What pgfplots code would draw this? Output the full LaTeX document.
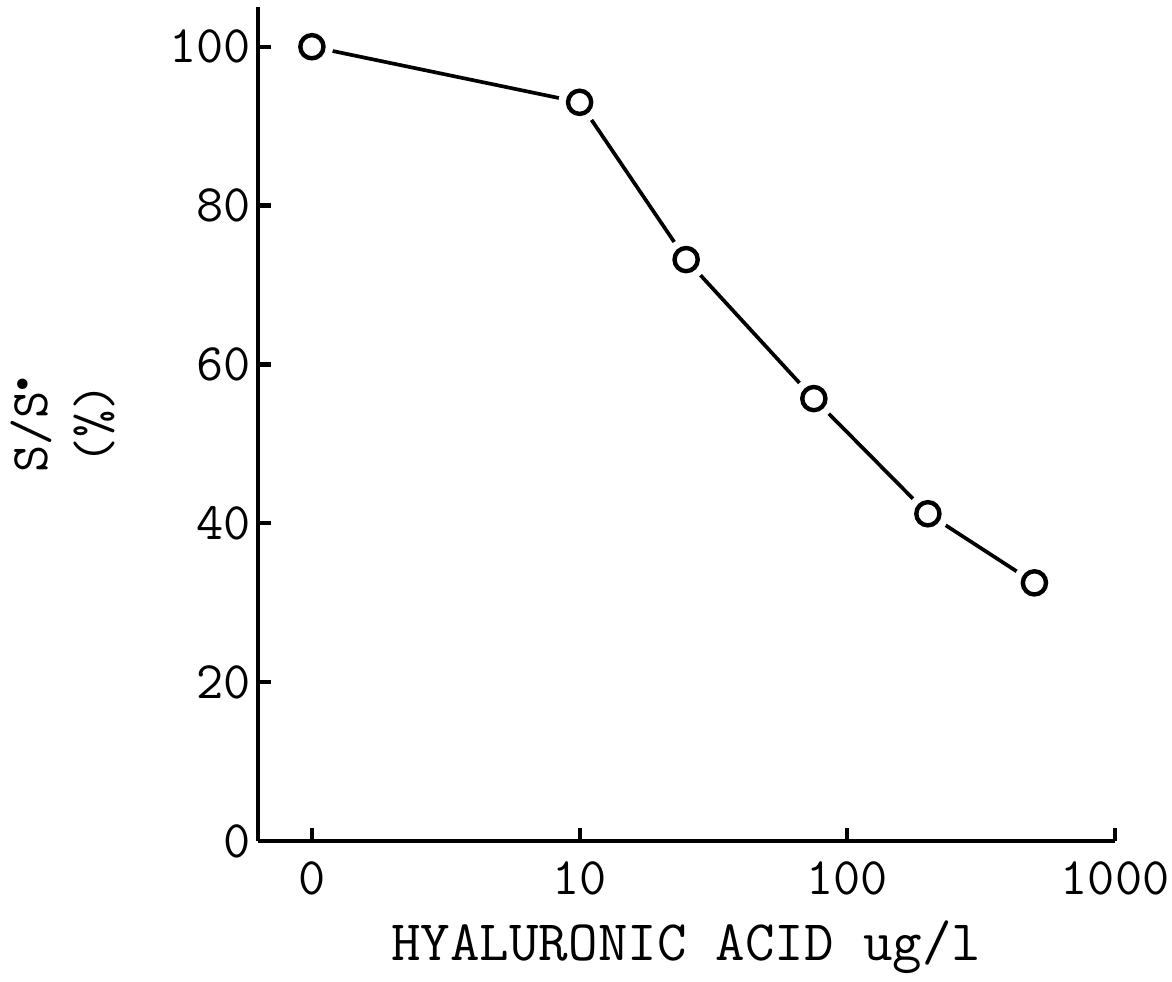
\documentclass[border=0pt]{standalone}
\usepackage{fontspec}
\usepackage{pgfplots}
\pgfplotsset{compat=1.18}
\usepackage{pgfplotstable}

% x = 0 is drawn at the "1" position of the log axis
\pgfplotstableread{
conc  ratio
1     100
10    93
25    73.2
75    55.7
200   41.2
500   32.5
}\hadata

\begin{document}
\begin{tikzpicture}
\useasboundingbox (-2.58cm,-1.40cm) rectangle (9.14cm,8.41cm);
\begin{axis}[
  scale only axis,
  width=8.57cm, height=8.34cm,
  xmode=log,
  xmin=0.629, xmax=1000,
  ymin=0, ymax=105,
  axis lines=left,
  axis line style={-, line width=1.2pt},
  tick style={line width=1.2pt, black},
  tick align=inside,
  major tick length=0.13cm,
  minor tick num=0,
  xtick={1,10,100,1000},
  xticklabels={0,10,100,1000},
  ytick={0,20,40,60,80,100},
  yticklabels={0,20,40,60,80,100},
  log ticks with fixed point,
  xminorticks=false,
  ticklabel style={font=\fontsize{15}{18}\selectfont\ttfamily},
  xticklabel style={yshift=-0.08cm},
  yticklabel style={xshift=0.05cm},
  xlabel={HYALURONIC ACID ug/l},
  xlabel style={font=\fontsize{16.3}{19}\selectfont\ttfamily,
    at={(axis description cs:0.5,0)}, anchor=base, yshift=-1.19cm},
  ylabel={S/S$^{\scriptscriptstyle\bullet}$\\(\%)},
  ylabel style={font=\fontsize{15}{18}\selectfont\ttfamily, align=center,
    at={(axis description cs:-0.228,0.5)}, anchor=center},
  clip=false,
]
\addplot[black, line width=1.05pt, mark=*,
  mark options={draw=white, fill=white, mark size=5.5pt}]
  table[x=conc, y=ratio] {\hadata};
\addplot[only marks, mark=o, mark size=3.3pt,
  mark options={draw=black, line width=1.25pt}]
  table[x=conc, y=ratio] {\hadata};
\end{axis}
\end{tikzpicture}
\end{document}
